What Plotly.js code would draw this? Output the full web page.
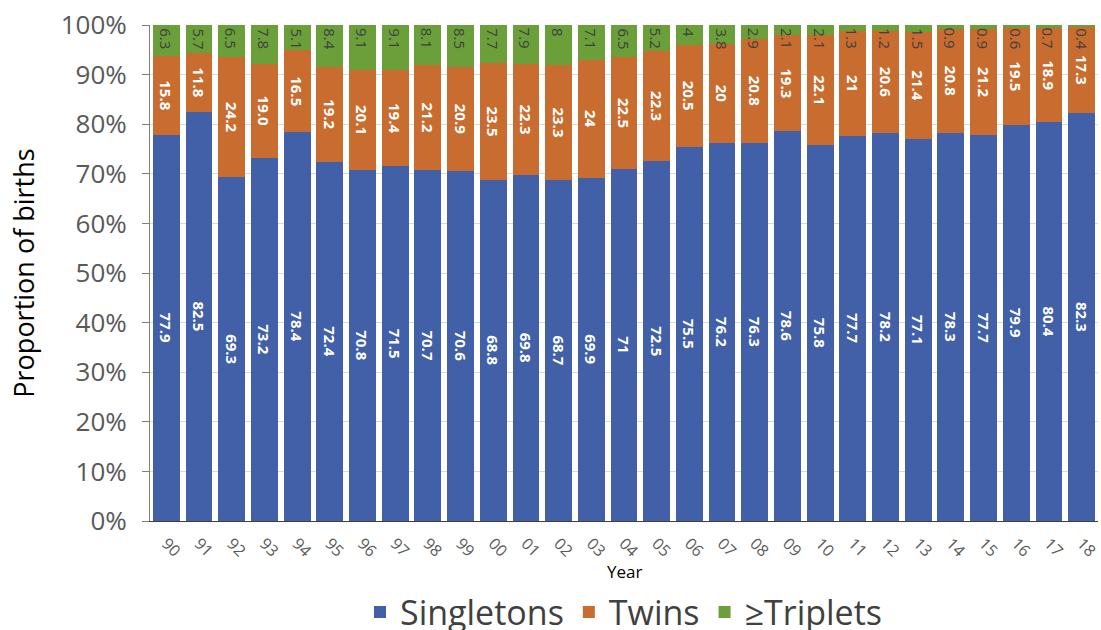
<!DOCTYPE html>
<html><head><meta charset="utf-8">
<script src="https://cdn.plot.ly/plotly-3.0.1.min.js"></script>
<style>body{margin:0;background:#fff}#chart{width:1101px;height:630px}</style>
</head><body><div id="chart"></div>
<script>
const years = ["90","91","92","93","94","95","96","97","98","99","00","01","02","03","04","05","06","07","08","09","10","11","12","13","14","15","16","17","18"];
const singletons = [77.9,82.5,69.3,73.2,78.4,72.4,70.8,71.5,70.7,70.6,68.8,69.8,68.7,69.9,71,72.5,75.5,76.2,76.3,78.6,75.8,77.7,78.2,77.1,78.3,77.7,79.9,80.4,82.3];
const twins = [15.8,11.8,24.2,19.0,16.5,19.2,20.1,19.4,21.2,20.9,23.5,22.3,23.3,24,22.5,22.3,20.5,20,20.8,19.3,22.1,21,20.6,21.4,20.8,21.2,19.5,18.9,17.3];
const triplets = [6.3,5.7,6.5,7.8,5.1,8.4,9.1,9.1,8.1,8.5,7.7,7.9,8,7.1,6.5,5.2,4,3.8,2.9,2.1,2.1,1.3,1.2,1.5,0.9,0.9,0.6,0.7,0.4];
const twinLabels = ["15.8","11.8","24.2","19.0","16.5","19.2","20.1","19.4","21.2","20.9","23.5","22.3","23.3","24","22.5","22.3","20.5","20","20.8","19.3","22.1","21","20.6","21.4","20.8","21.2","19.5","18.9","17.3"];
const xTitle = "Year";

const FONT = "'Open Sans', sans-serif";
const labelFont = {color:'#ffffff', size:15, family:FONT, weight:'bold'};
const traces = [
  {type:'bar', name:'Singletons', x:years, y:singletons, text:singletons.map(String),
   textposition:'inside', insidetextanchor:'middle', textangle:90, constraintext:'none',
   textfont:labelFont, marker:{color:'#4160a8'}},
  {type:'bar', name:'Twins', x:years, y:twins, text:twinLabels,
   textposition:'inside', insidetextanchor:'middle', textangle:90, constraintext:'none',
   textfont:labelFont, marker:{color:'#c96c30'}},
  {type:'bar', name:'≥Triplets', x:years, y:triplets, textposition:'none',
   marker:{color:'#6a9f3a'}}
];
// 100% stacked (barnorm) -> every bar tops out at 100; triplet labels hang from that top
const annotations = years.map((yr, i) => ({
  x: i, y: 100, xref:'x', yref:'y',
  text: String(triplets[i]), showarrow:false, textangle:90,
  yanchor:'top', xanchor:'center', yshift:-1,
  font:{family:FONT, size:15, color:'#404040'}
}));
// x-axis title placed as a paper annotation so its distance below the tick labels can be set
annotations.push({x:0.5, y:-0.102, xref:'paper', yref:'paper', text:xTitle, showarrow:false,
  xanchor:'center', yanchor:'middle', font:{family:FONT, size:17, color:'#000'}});
const layout = {
  width:1101, height:630,
  margin:{l:150, r:3, t:25, b:109},
  barmode:'stack', barnorm:'percent', bargap:0.18,
  paper_bgcolor:'#fff', plot_bgcolor:'#fff',
  font:{family:FONT, color:'#595959'},
  annotations: annotations,
  xaxis:{type:'category', tickangle:45, tickfont:{size:16, color:'#595959'},
    showline:true, linecolor:'#404040', linewidth:1, ticks:'', automargin:false,
    ticklabelstandoff:6},
  yaxis:{range:[0,100], dtick:10, ticksuffix:'%', tickfont:{size:26, color:'#595959'},
    showgrid:true, gridcolor:'#d9d9d9', showline:true, linecolor:'#7f7f7f', linewidth:1,
    ticks:'outside', ticklen:7, tickcolor:'#7f7f7f', zeroline:false, automargin:false,
    ticklabelstandoff:10,
    title:{text:'Proportion of births', font:{size:27, color:'#000'}, standoff:18}},
  legend:{orientation:'h', x:0.5, xanchor:'center', yref:'container', y:0.028, yanchor:'middle',
    font:{size:34, color:'#404040'}, itemwidth:30, traceorder:'normal'},
  showlegend:true
};
Plotly.newPlot('chart', traces, layout, {displayModeBar:false});
</script></body></html>
